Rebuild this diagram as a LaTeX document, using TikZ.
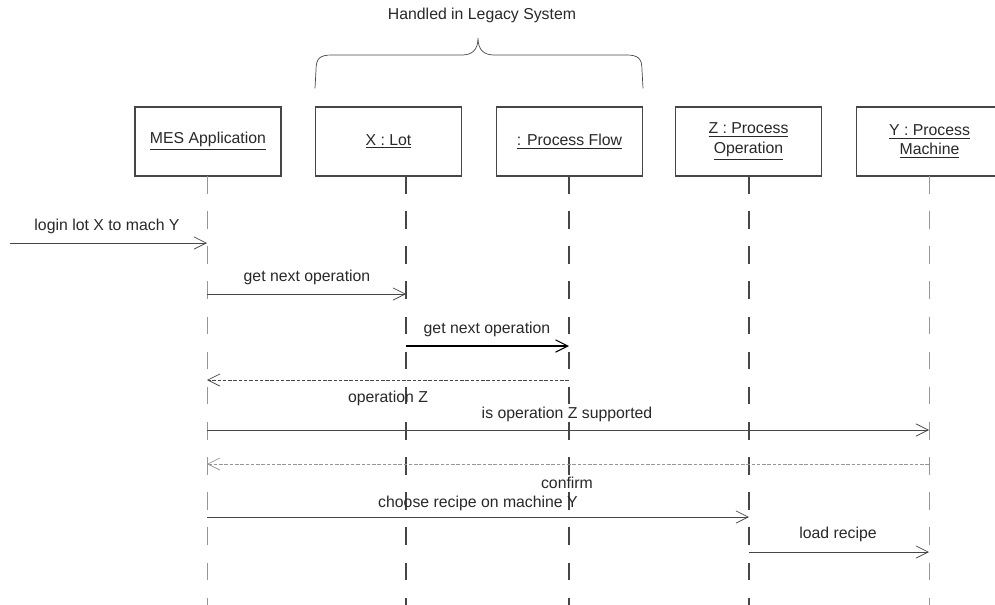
\documentclass[tikz,border=0pt]{standalone}
\usepackage{fontspec}
\setmainfont{Liberation Sans}
\usepackage{xcolor}
\definecolor{seqline}{RGB}{70,70,70}
\definecolor{seqtext}{RGB}{40,40,40}
\definecolor{seqlight}{RGB}{150,150,150}
\usetikzlibrary{arrows.meta, positioning, calc}

\begin{document}
\begin{tikzpicture}[x=0.02cm, y=-0.02cm,
  obj/.style={rectangle, draw=seqline, semithick, fill=white, minimum width=2.92cm,
              minimum height=1.38cm, align=center, font=\fontsize{9}{11}\selectfont, text=seqtext},
  life/.style={draw=seqline, thick, dash pattern=on 10pt off 10pt},
  lifelt/.style={draw=seqlight, thin, dash pattern=on 10pt off 10pt},
  msg/.style={draw=seqline, thin, -{Straight Barb[length=7pt,width=7pt]}},
  ret/.style={msg, dash pattern=on 2pt off 1pt},
  mlabel/.style={font=\fontsize{9}{10}\selectfont, text=seqtext, inner sep=1pt}
]
\useasboundingbox (0,0) rectangle (995,605);

% Objects
\node[obj] (mes)  at (208,141.5)   {\underline{MES Application}};
\node[obj] (lot)  at (388.5,141.5) {\underline{X : Lot}};
\node[obj] (flow) at (569.5,141.5) {\underline{: Process Flow}};
\node[obj] (oper) at (748.5,141.5) {\underline{Z : Process}\\\underline{Operation}};
\node[obj] (mach) at (929.5,141.5) {\underline{Y : Process}\\\underline{Machine}};

% Lifelines
\coordinate (mesL)  at (207,176);
\coordinate (lotL)  at (406,176);
\coordinate (flowL) at (569,176);
\coordinate (operL) at (749,176);
\coordinate (machL) at (929,176);
\coordinate (bot)   at (0,605);
\draw[lifelt] (mesL)  -- (mesL |- bot);
\draw[life]   (lotL)  -- (lotL |- bot);
\draw[life]   (flowL) -- (flowL |- bot);
\draw[life]   (operL) -- (operL |- bot);
\draw[lifelt] (machL) -- (machL |- bot);

% Legacy brace
\draw[seqline, thin] ($(lot.north west)+(0,-18)$) -- (316,70)
  .. controls (316,58) and (320,55) .. (332,55) -- (462,55)
  .. controls (472,55) and (478,50) .. (478,38)
  .. controls (478,50) and (484,55) .. (494,55) -- (626,55)
  .. controls (638,55) and (642,58) .. (642,70) -- ($(flow.north east)+(0,-18)$);
\node[mlabel] (legacy) at (482,15) {Handled in Legacy System};

% Messages
\coordinate (start) at (10,243);
\draw[msg] (start) -- (mesL |- start);
\node[mlabel] (m1) at (107,226) {login lot X to mach Y};

\coordinate (r2) at (0,294);
\draw[msg] (mesL |- r2) -- (lotL |- r2);
\node[mlabel] (m2) at (307,277) {get next operation};

\coordinate (r3) at (0,346);
\draw[msg, semithick, draw=black] (lotL |- r3) -- (flowL |- r3);
\node[mlabel] (m3) at (487,329) {get next operation};

\coordinate (r4) at (0,380);
\draw[ret] (flowL |- r4) -- (mesL |- r4);
\node[mlabel] (m4) at (388,398) {operation Z};

\coordinate (r5) at (0,430);
\draw[msg] (mesL |- r5) -- (machL |- r5);
\node[mlabel] (m5) at (567,414) {is operation Z supported};

\coordinate (r6) at (0,464);
\draw[ret, draw=seqlight] (machL |- r6) -- (mesL |- r6);
\node[mlabel] (m6) at (567,483) {confirm};

\coordinate (r7) at (0,517);
\draw[msg] (mesL |- r7) -- (operL |- r7);
\node[mlabel] (m7) at (478,503) {choose recipe on machine Y};

\coordinate (r8) at (0,552);
\draw[msg] (operL |- r8) -- (machL |- r8);
\node[mlabel] (m8) at (838,534) {load recipe};
\end{tikzpicture}
\end{document}
